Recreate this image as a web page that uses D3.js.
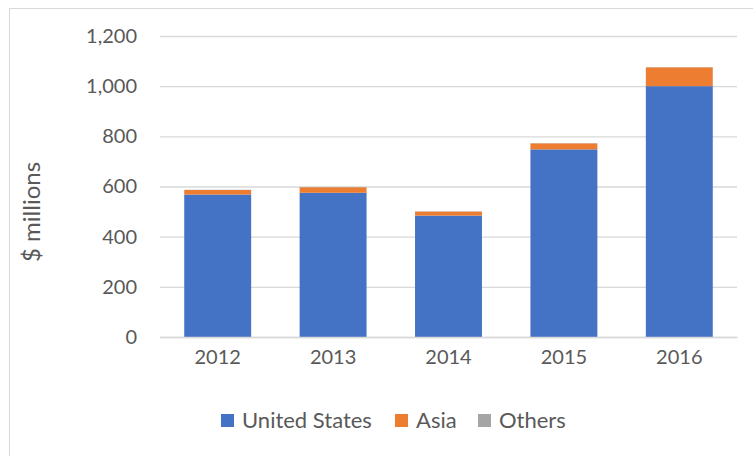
<!DOCTYPE html>
<html>
<head>
<meta charset="utf-8">
<script src="https://cdn.jsdelivr.net/npm/d3@7/dist/d3.min.js"></script>
<style>
body { margin: 0; background: #fff; }
text { font-family: Lato, "Open Sans", sans-serif; fill: #595959; }
</style>
</head>
<body>
<svg id="chart"></svg>
<script>
var width = 753;
var height = 456;

// data
var years = ["2012", "2013", "2014", "2015", "2016"];
var unitedStates = [568, 575, 484, 748, 1000];
var asia = [18, 22, 16, 24, 75];
var others = [1, 1, 1, 1, 1];
var yTicks = [0, 200, 400, 600, 800, 1000, 1200];
var seriesNames = ["United States", "Asia", "Others"];
var colors = ["#4472C4", "#ED7D31", "#A5A5A5"];

var svg = d3.select("#chart")
	.attr("width", width)
	.attr("height", height);

// chart border
svg.append("rect")
	.attr("x", 9.5)
	.attr("y", 8.5)
	.attr("width", 800)
	.attr("height", 500)
	.style("fill", "none")
	.style("stroke", "#d9d9d9");

var x = d3.scaleBand()
	.domain(years)
	.range([160, 737])
	.paddingInner(0.42)
	.paddingOuter(0.21);

var y = d3.scaleLinear()
	.domain([0, 1200])
	.range([337, 36]);

// gridlines + tick labels
var yaxis = d3.axisLeft(y)
	.tickValues(yTicks)
	.tickSize(-577)
	.tickPadding(23)
	.tickFormat(d3.format(","));

var gy = svg.append("g").attr("transform", "translate(160,0)").call(yaxis);
gy.select(".domain").remove();
gy.selectAll("line").style("stroke", "#d9d9d9").style("stroke-width", 1.3);
gy.selectAll("text").style("font-size", "20px").style("fill", "#595959");

// stacked bars
var rows = years.map(function (yr, i) {
	return { year: yr, "United States": unitedStates[i], "Asia": asia[i], "Others": others[i] };
});
var stack = d3.stack().keys(seriesNames)(rows);

svg.selectAll(".series")
	.data(stack)
	.enter()
	.append("g")
	.style("fill", function (d, i) { return colors[i]; })
	.selectAll("rect")
	.data(function (d) { return d; })
	.enter()
	.append("rect")
	.attr("x", function (d) { return x(d.data.year); })
	.attr("width", x.bandwidth())
	.attr("y", function (d) { return y(d[1]); })
	.attr("height", function (d) { return y(d[0]) - y(d[1]); });

// x labels
var xaxis = d3.axisBottom(x).tickSize(0).tickPadding(13);
var gx = svg.append("g").attr("transform", "translate(0,337)").call(xaxis);
gx.select(".domain").style("stroke", "#d9d9d9").style("stroke-width", 1.3);
gx.selectAll("text").style("font-size", "20px").style("fill", "#595959");

// y title
svg.append("text")
	.attr("transform", "translate(40,212) rotate(-90)")
	.attr("text-anchor", "middle")
	.style("font-size", "24px")
	.text("$ millions");

// legend
var legendX = [221, 395, 478];
var legend = svg.selectAll(".legend")
	.data(seriesNames)
	.enter()
	.append("g")
	.attr("transform", function (d, i) { return "translate(" + legendX[i] + ",414)"; });

legend.append("rect")
	.attr("width", 13)
	.attr("height", 13)
	.style("fill", function (d, i) { return colors[i]; });

legend.append("text")
	.attr("x", 21)
	.attr("y", 14)
	.style("font-size", "22px")
	.text(function (d) { return d; });
</script>
</body>
</html>
